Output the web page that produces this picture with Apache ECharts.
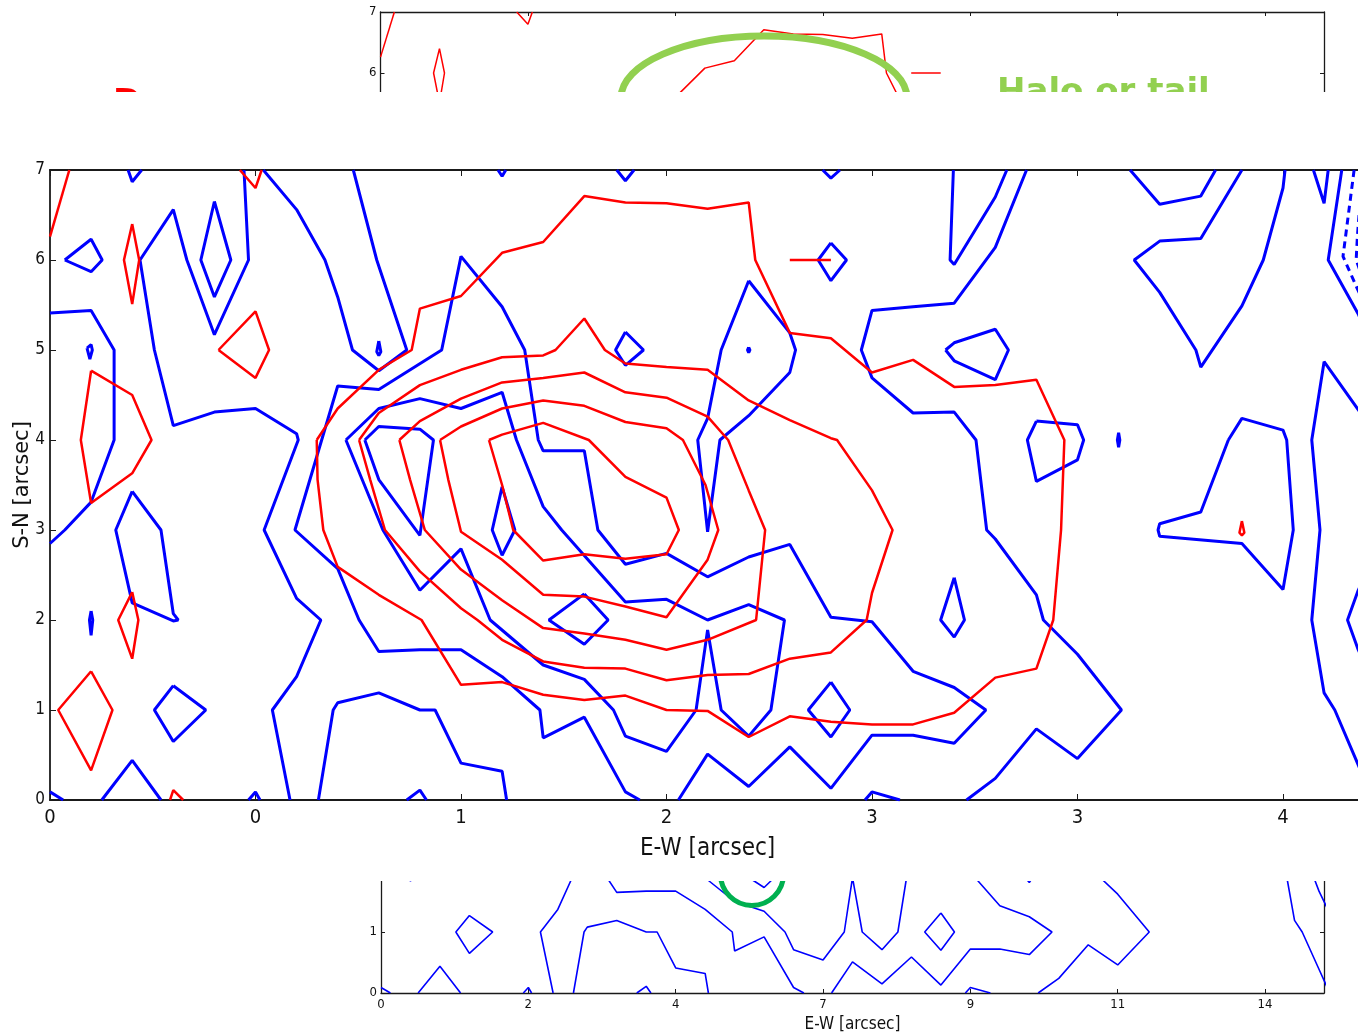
<!DOCTYPE html>
<html>
<head>
<meta charset="utf-8">
<title>E-W / S-N contour map</title>
<script src="https://cdn.jsdelivr.net/npm/echarts@6/dist/echarts.min.js"></script>
<style>
  html, body { margin: 0; padding: 0; background: #ffffff; }
  #chart { width: 1358px; height: 1034px; }
</style>
</head>
<body>
<div id="chart"></div>
<script>
// ---- axis tick labels (x positions are pixel-column indices, ticks every 5 columns) ----
const mainXLabels  = ['0', '0', '1', '2', '3', '3', '4'];
const panelXLabels = ['0', '2', '4', '7', '9', '11', '14'];

// ---- red contour paths, [column, S-N] ----
const redEdge        = [[0, 6.26], [0.47, 7]];
const redSpike       = [[2, 6.4], [2.17, 6], [2, 5.51], [1.8, 6], [2, 6.4]];
const redNotch       = [[4.62, 7], [5, 6.8], [5.15, 7]];
const redKite        = [[4.1, 5], [5, 5.43], [5.33, 5], [5, 4.69], [4.1, 5]];
const redLeftLoop    = [[1, 4.77], [2, 4.5], [2.47, 4], [2, 3.63], [1, 3.3], [0.75, 4], [1, 4.77]];
const redSmallDiam   = [[2, 2.31], [2.15, 2], [2, 1.57], [1.66, 2], [2, 2.31]];
const redLowDiam     = [[1, 1.43], [1.52, 1], [1, 0.33], [0.2, 1], [1, 1.43]];
const redBaseNotch   = [[2.92, 0], [3, 0.11], [3.24, 0]];
const redDash        = [[18, 6], [19, 6]];
const redDrop        = [[29, 3.1], [29.06, 2.97], [29, 2.94], [28.94, 2.97], [29, 3.1]];
const redLevel1 = [[6.49, 4], [7, 4.35], [8, 4.78], [8.8, 5], [9, 5.46], [10, 5.6], [11, 6.08], [12, 6.2],
  [13, 6.71], [14, 6.64], [15, 6.63], [16, 6.57], [17, 6.64], [17.16, 6], [18, 5.19], [19, 5.13], [20, 4.75],
  [21, 4.89], [22, 4.59], [23, 4.61], [24, 4.67], [24.68, 4], [24.6, 3], [24.41, 2], [24, 1.46], [23, 1.36],
  [22, 0.97], [21, 0.84], [20, 0.84], [19, 0.87], [18, 0.93], [17, 0.7], [16, 0.99], [15, 1.0], [14, 1.16],
  [13, 1.11], [12, 1.17], [11, 1.31], [10, 1.28], [9.04, 2], [8, 2.28], [7, 2.59], [6.65, 3], [6.51, 3.56], [6.49, 4]];
const redLevel2 = [[7.52, 4], [8, 4.3], [9, 4.61], [10, 4.78], [11, 4.92], [12, 4.94], [12.3, 5], [13, 5.35],
  [13.5, 5], [14, 4.85], [15, 4.81], [16, 4.78], [17, 4.44], [18, 4.22], [19, 4.02], [19.15, 4], [20, 3.44],
  [20.5, 3], [20, 2.3], [19.87, 2], [19, 1.64], [18, 1.57], [17, 1.4], [16, 1.39], [15, 1.33], [14, 1.46],
  [13, 1.47], [12, 1.54], [11, 1.78], [10.4, 2], [10, 2.13], [9, 2.54], [8.15, 3], [7.79, 3.56], [7.52, 4]];
const redLevel3 = [[8.5, 4], [9, 4.21], [10, 4.46], [11, 4.64], [12, 4.69], [13, 4.75], [14, 4.53], [15, 4.47],
  [16, 4.26], [16.5, 4], [17, 3.44], [17.4, 3], [17.18, 2], [16, 1.78], [15, 1.67], [14, 1.78], [13, 1.85],
  [12, 1.91], [11, 2.22], [10, 2.56], [9.12, 3], [8.76, 3.56], [8.5, 4]];
const redLevel4 = [[9.49, 4], [10, 4.15], [11, 4.35], [12, 4.44], [13, 4.38], [14, 4.2], [15, 4.13], [15.4, 4],
  [15.95, 3.5], [16.26, 3], [16, 2.67], [15, 2.03], [14, 2.15], [13, 2.26], [12, 2.28], [11, 2.67], [10, 2.98],
  [9.69, 3.56], [9.49, 4]];
const redLevel5 = [[10.68, 4], [11, 4.06], [12, 4.19], [13.11, 4], [14, 3.59], [15, 3.36], [15.3, 3], [15, 2.73],
  [14, 2.68], [13, 2.73], [12, 2.66], [11.27, 3], [11, 3.5], [10.68, 4]];

// ---- blue contour paths, [column, S-N] ----
const blueTopNotches = [
  [[1.9, 7], [2, 6.87], [2.23, 7]],
  [[10.9, 7], [11, 6.93], [11.09, 7]],
  [[13.79, 7], [14, 6.88], [14.21, 7]],
  [[18.8, 7], [19, 6.91], [19.22, 7]],
  [[30.74, 7], [31, 6.63], [31.1, 7]]
];
const blueBaseNotches = [
  [[0, 0.09], [0.32, 0]],
  [[1.26, 0], [2, 0.44], [2.7, 0]],
  [[4.83, 0], [5, 0.09], [5.11, 0]],
  [[8.68, 0], [9, 0.11], [9.16, 0]],
  [[19.83, 0], [20, 0.09], [20.68, 0]]
];
const blueKites = [
  [[0.36, 6], [1, 6.23], [1.27, 6], [1, 5.87], [0.36, 6]],
  [[4, 6.65], [4.4, 6], [4, 5.59], [3.67, 6], [4, 6.65]],
  [[3, 1.27], [3.79, 1], [3, 0.65], [2.54, 1], [3, 1.27]],
  [[13, 2.29], [13.58, 2], [13, 1.73], [12.14, 2], [13, 2.29]],
  [[11, 3.48], [11.31, 3], [11, 2.72], [10.76, 3], [11, 3.48]],
  [[19, 1.31], [19.46, 1], [19, 0.7], [18.45, 1], [19, 1.31]],
  [[19, 6.19], [19.38, 6], [19, 5.77], [18.69, 6], [19, 6.19]],
  [[14, 5.2], [14.44, 5], [14, 4.83], [13.76, 5], [14, 5.2]],
  [[22, 2.47], [22.25, 2], [22, 1.81], [21.67, 2], [22, 2.47]]
];
const blueSpecks = [
  [[0.9, 5.02], [1, 5.06], [1.03, 5], [0.97, 4.9], [0.9, 5.02]],
  [[8, 5.1], [8.05, 4.98], [8, 4.94], [7.95, 4.98], [8, 5.1]],
  [[1, 2.1], [1.04, 2], [1, 1.83], [0.96, 2], [1, 2.1]],
  [[17, 5.03], [17.03, 5], [17, 4.97], [16.97, 5], [17, 5.03]],
  [[26, 4.08], [26.03, 4], [26, 3.92], [25.97, 4], [26, 4.08]]
];
const blueLeftEdge = [[0, 5.41], [1, 5.44], [1.56, 5], [1.56, 4], [1, 3.31], [0.36, 3], [0, 2.85]];
const blueSpindle  = [[2, 3.43], [2.7, 3], [3, 2.07], [3.12, 2], [3, 1.99], [2, 2.19], [1.6, 3], [2, 3.43]];
const blueWestArm  = [[4.72, 7], [4.83, 6], [4, 5.17], [3.33, 6], [3, 6.56], [2.19, 6], [2.54, 5], [3, 4.16],
  [4, 4.31], [5, 4.35], [6, 4.07], [6.04, 4], [5.21, 3], [6, 2.24], [6.59, 2], [6, 1.37], [5.41, 1], [5.84, 0]];
const blueNorthU   = [[5.19, 7], [6, 6.56], [6.69, 6], [7, 5.59], [7.36, 5], [8, 4.77], [8.68, 5], [7.95, 6], [7.38, 7]];
const blueMain     = [[14.35, 0], [14, 0.09], [13, 0.92], [12, 0.69], [11.92, 1], [11, 1.37], [10, 1.67], [9, 1.67],
  [8, 1.65], [7.52, 2], [7, 2.57], [5.96, 3], [7, 4.6], [8, 4.56], [9.53, 5], [10, 6.04], [11, 5.48], [11.55, 5],
  [11.88, 4], [12, 3.88], [13, 3.88], [13.33, 3], [14, 2.62], [15, 2.74], [16, 2.48], [17, 2.7], [18, 2.84],
  [19, 2.03], [20, 1.98], [21, 1.43], [22, 1.25], [22.77, 1], [22, 0.63], [21, 0.72], [20, 0.72], [19, 0.13],
  [18, 0.59], [17, 0.15], [16, 0.51], [15.29, 0]];
const blueInnerRing = [[7.2, 4], [8.1, 3], [9, 2.33], [10, 2.79], [10.71, 2], [12, 1.5], [13, 1.34], [13.71, 1],
  [14, 0.71], [15, 0.54], [15.72, 1], [16, 1.89], [16.33, 1], [17, 0.71], [17.54, 1], [17.87, 2], [17, 2.17],
  [16, 2], [15, 2.23], [14, 2.2], [12.45, 3], [12, 3.26], [11.35, 4], [11, 4.53], [10, 4.35], [9, 4.46],
  [8, 4.35], [7.2, 4]];
const blueCoreLoop = [[7.66, 4], [8, 4.15], [9, 4.12], [9.33, 4], [9, 2.94], [8, 3.56], [7.66, 4]];
const blueSouthArc = [[6.53, 0], [6.89, 1], [7, 1.08], [8, 1.19], [9, 1.0], [9.37, 1], [10, 0.41], [11, 0.32], [11.11, 0]];
const blueNeedle   = [[17, 5.77], [18, 5.19], [18.14, 5], [18, 4.75], [17, 4.27], [16.3, 4], [16, 2.98],
  [15.76, 4], [16, 4.24], [16.33, 5], [17, 5.77]];
const blueEastArm  = [[23.76, 7], [23, 6.14], [22, 5.52], [21, 5.48], [20, 5.44], [19.74, 5], [20, 4.69],
  [21, 4.3], [22, 4.31], [22.53, 4], [22.79, 3], [23, 2.9], [24, 2.28], [24.17, 2], [25, 1.62], [26.07, 1],
  [25, 0.46], [24, 0.79], [23, 0.24], [22.3, 0]];
const blueNorthV   = [[21.98, 7], [21.9, 6], [22, 5.95], [23, 6.7], [23.28, 7]];
const blueNorthCup = [[26.28, 7], [27, 6.62], [28, 6.71], [28.36, 7]];
const blueArrow    = [[29, 7], [28, 6.24], [27, 6.21], [26.38, 6], [27, 5.64], [27.88, 5], [28, 4.81],
  [29, 5.49], [29.52, 6], [30, 6.8], [30.05, 7]];
const blueEdgeNE   = [[31.43, 7], [31.1, 6], [31.83, 5.4], [32.2, 5.0]];
const bluePentagon = [[21.79, 5], [22, 5.08], [23, 5.23], [23.32, 5], [23, 4.67], [22, 4.88], [21.79, 5]];
const blueHexagon  = [[24, 4.21], [25, 4.17], [25.15, 4], [25, 3.78], [24, 3.54], [23.78, 4], [24, 4.21]];
const blueFlag     = [[28.67, 4], [29, 4.24], [30, 4.11], [30.09, 4], [30.25, 3], [30, 2.34], [29, 2.85],
  [27, 2.93], [26.96, 3], [27, 3.07], [28, 3.2], [28.67, 4]];
const blueEdgeE    = [[32.2, 4.1], [31, 4.87], [30.7, 4], [30.9, 3], [30.7, 2], [31, 1.19], [31.26, 1], [31.83, 0.39], [32.1, 0.1]];
const blueEdgeSE   = [[32.2, 2.7], [31.83, 2.33], [31.57, 2], [31.83, 1.67], [32.2, 1.3]];
// negative level, drawn dashed
const blueDashed = [
  [[31.73, 7], [31.46, 6.04], [31.79, 5.7], [32.2, 5.3]],
  [[31.85, 6.5], [31.81, 6.26], [31.78, 6], [31.86, 5.9], [32.2, 5.6]]
];

const redPaths = [redEdge, redSpike, redNotch, redKite, redLeftLoop, redSmallDiam, redLowDiam, redBaseNotch,
  redDash, redDrop, redLevel1, redLevel2, redLevel3, redLevel4, redLevel5];
const bluePaths = [].concat(blueTopNotches, blueBaseNotches, blueKites, blueSpecks, [blueLeftEdge, blueSpindle,
  blueWestArm, blueNorthU, blueMain, blueInnerRing, blueCoreLoop, blueSouthArc, blueNeedle, blueEastArm,
  blueNorthV, blueNorthCup, blueArrow, blueEdgeNE, bluePentagon, blueHexagon, blueFlag, blueEdgeE, blueEdgeSE]);

const RED = '#ff0000', BLUE = '#0000ff';
const NARROW = '"Liberation Sans Narrow", "DejaVu Sans Condensed", "Liberation Sans", sans-serif';
const AXIS_COLOR = '#1a1a1a';

function contourSeries(paths, color, width, xi, yi, z, dash) {
  return paths.map(function (p) {
    return {
      type: 'line', xAxisIndex: xi, yAxisIndex: yi, data: p,
      symbol: 'none', showSymbol: false, silent: true, clip: true, z: z,
      lineStyle: { color: color, width: width, type: dash || 'solid' },
      emphasis: { disabled: true }
    };
  });
}
function tickFormatter(labels) {
  return function (v) {
    if (Math.abs(v % 5) > 1e-6) return '';
    const s = labels[Math.round(v / 5)];
    return s === undefined ? '' : s;
  };
}
function frameAxis(extra) {
  return Object.assign({
    type: 'value', splitLine: { show: false },
    axisLine: { show: true, onZero: false, lineStyle: { color: AXIS_COLOR, width: 1.3 } },
    axisTick: { show: true, inside: true, length: 4, lineStyle: { color: AXIS_COLOR, width: 1 } },
    axisLabel: { show: false }
  }, extra);
}

const COL_MAX = 32;

const option = {
  backgroundColor: '#ffffff',
  animation: false,
  grid: [
    // overlay map; its right edge runs just past the window
    { left: 50, top: 170, width: 1315.2, height: 630, containLabel: false, outerBoundsMode: 'none' },
    // red panel behind
    { left: 380.5, top: 12, width: 943.5, height: 427, containLabel: false, outerBoundsMode: 'none' },
    // blue panel behind
    { left: 381, top: 566, width: 943, height: 427, containLabel: false, outerBoundsMode: 'none' }
  ],
  xAxis: [
    frameAxis({ gridIndex: 0, position: 'bottom', min: 0, max: COL_MAX, interval: 5, z: 6,
      axisLine: { show: true, onZero: false, lineStyle: { color: AXIS_COLOR, width: 1.8 } },
      axisTick: { show: true, inside: true, length: 6, lineStyle: { color: AXIS_COLOR, width: 1 } },
      axisLabel: { show: true, formatter: tickFormatter(mainXLabels), margin: 8, color: '#111',
        fontFamily: NARROW, fontSize: 20 },
      name: 'E-W [arcsec]', nameLocation: 'middle', nameGap: 37,
      nameTextStyle: { fontFamily: NARROW, fontSize: 24, color: '#111' } }),
    frameAxis({ gridIndex: 0, position: 'top', min: 0, max: COL_MAX, interval: 5, z: 6,
      axisLine: { show: true, onZero: false, lineStyle: { color: AXIS_COLOR, width: 1.8 } },
      axisTick: { show: true, inside: true, length: 6, lineStyle: { color: AXIS_COLOR, width: 1 } } }),
    frameAxis({ gridIndex: 1, position: 'top', min: 0, max: COL_MAX, interval: 5, z: 0 }),
    frameAxis({ gridIndex: 2, position: 'bottom', min: 0, max: COL_MAX, interval: 5, z: 0,
      axisLabel: { show: true, formatter: tickFormatter(panelXLabels), margin: 5, color: '#111',
        fontFamily: NARROW, fontSize: 13 },
      name: 'E-W [arcsec]', nameLocation: 'middle', nameGap: 23,
      nameTextStyle: { fontFamily: NARROW, fontSize: 17, color: '#111' } })
  ],
  yAxis: [
    frameAxis({ gridIndex: 0, position: 'left', min: 0, max: 7, interval: 1, z: 6,
      axisLine: { show: true, onZero: false, lineStyle: { color: AXIS_COLOR, width: 1.8 } },
      axisTick: { show: true, inside: true, length: 6, lineStyle: { color: AXIS_COLOR, width: 1 } },
      axisLabel: { show: true, margin: 5, color: '#111', fontFamily: NARROW, fontSize: 17 },
      name: 'S-N [arcsec]', nameLocation: 'middle', nameGap: 17, nameRotate: 90, nameMoveOverlap: false,
      nameTextStyle: { fontFamily: '"DejaVu Sans", sans-serif', fontSize: 21, color: '#111' } }),
    frameAxis({ gridIndex: 1, position: 'left', min: 0, max: 7, interval: 1, z: 0,
      axisLabel: { show: true, margin: 4, color: '#111', fontFamily: NARROW, fontSize: 13 } }),
    frameAxis({ gridIndex: 1, position: 'right', min: 0, max: 7, interval: 1, z: 0 }),
    frameAxis({ gridIndex: 2, position: 'left', min: 0, max: 7, interval: 1, z: 0,
      axisLabel: { show: true, margin: 4, color: '#111', fontFamily: NARROW, fontSize: 13 } }),
    frameAxis({ gridIndex: 2, position: 'right', min: 0, max: 7, interval: 1, z: 0 })
  ],
  series: [].concat(
    contourSeries(redPaths, RED, 1.5, 2, 1, 1),
    contourSeries(bluePaths, BLUE, 1.6, 3, 3, 1),
    contourSeries(blueDashed, BLUE, 1.6, 3, 3, 1, [5, 4]),
    contourSeries(redPaths, RED, 2.5, 0, 0, 8),
    contourSeries(bluePaths, BLUE, 3, 0, 0, 7),
    contourSeries(blueDashed, BLUE, 3, 0, 0, 7, [7, 5])
  ),
  graphic: [
    { type: 'ellipse', shape: { cx: 764, cy: 98, rx: 143, ry: 62 },
      style: { fill: 'none', stroke: '#92d050', lineWidth: 7 }, z: 3, silent: true },
    { type: 'text', x: 997, y: 76, z: 3, silent: true,
      style: { text: 'Halo or tail', fill: '#92d050', font: 'bold 34px "DejaVu Sans", sans-serif',
        align: 'left', verticalAlign: 'top' } },
    { type: 'text', x: 113, y: 87, z: 3, silent: true,
      style: { text: 'D', fill: '#ff0000', font: 'bold 34px "DejaVu Sans", sans-serif',
        align: 'left', verticalAlign: 'top' } },
    { type: 'circle', shape: { cx: 752, cy: 874, r: 31.5 },
      style: { fill: 'none', stroke: '#00b050', lineWidth: 5 }, z: 3, silent: true },
    { type: 'rect', shape: { x: 0, y: 92, width: 1358, height: 789 },
      style: { fill: '#ffffff' }, z: 5, silent: true }
  ]
};

const chart = echarts.init(document.getElementById('chart'), null, { renderer: 'canvas' });
chart.setOption(option);
</script>
</body>
</html>
